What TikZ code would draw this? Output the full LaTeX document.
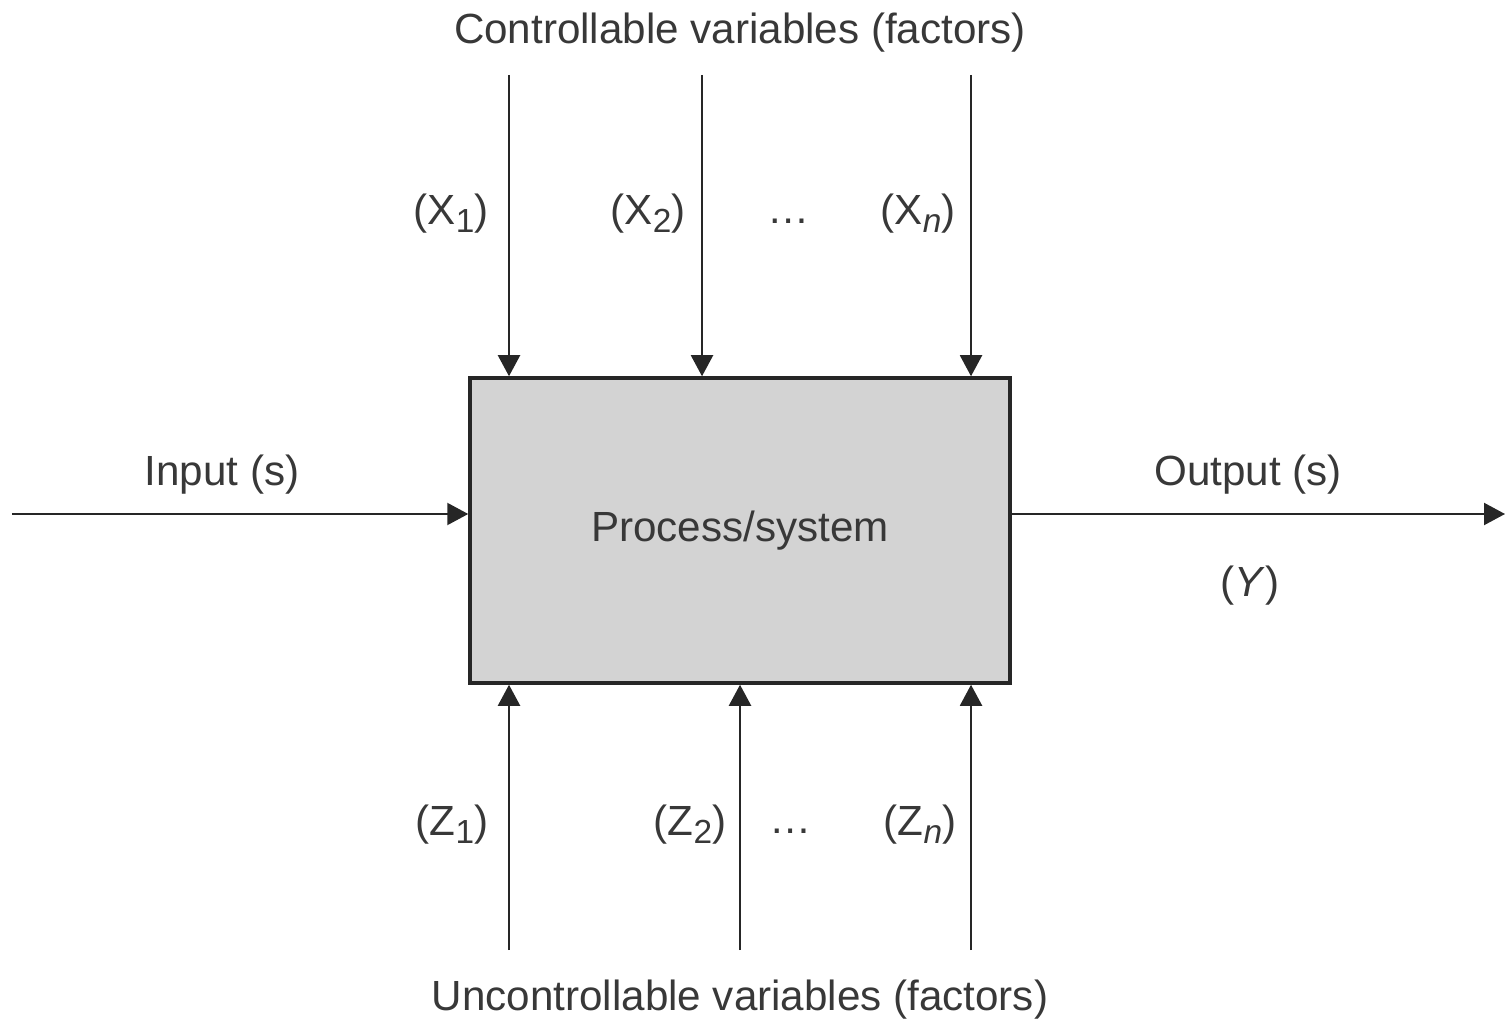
\documentclass[tikz,border=0pt]{standalone}
\usepackage{fontspec}
\setmainfont{Liberation Sans}
\usetikzlibrary{arrows.meta,calc,positioning}
\definecolor{ink}{HTML}{262626}
\definecolor{txt}{HTML}{383838}
\definecolor{boxgray}{HTML}{D3D3D3}
\tikzset{flow/.style={-{Triangle[length=2.1mm,width=2.2mm]}, line width=.6pt, color=ink}, procbox/.style={draw=ink, fill=boxgray, line width=1pt, minimum width=5.4cm, minimum height=3.05cm, inner sep=0pt}, lab/.style={font=\fontsize{12}{14}\selectfont, text=txt, inner sep=0pt}}
\newcommand{\sub}[1]{\raisebox{-0.35ex}{\fontsize{9.5}{11}\selectfont #1}}

\begin{document}
\begin{tikzpicture}[scale=1]
\useasboundingbox (0,0) rectangle (15.11,10.19);
\node[procbox, lab] (proc) at (7.40,4.885) {\raisebox{-0.4ex}{Process/system}};
% controllable factors
\coordinate (x1) at (5.09,9.44); \coordinate (x2) at (7.02,9.44); \coordinate (xn) at (9.71,9.44);
\draw[flow] (x1)--(x1|-proc.north); \draw[flow] (x2)--(x2|-proc.north); \draw[flow] (xn)--(xn|-proc.north);
% uncontrollable factors
\coordinate (z1) at (5.09,0.69); \coordinate (z2) at (7.40,0.69); \coordinate (zn) at (9.71,0.69);
\draw[flow] (z1)--(z1|-proc.south); \draw[flow] (z2)--(z2|-proc.south); \draw[flow] (zn)--(zn|-proc.south);
% input and output
\coordinate (in) at (0.12,5.05); \coordinate (out) at (15.05,5.05);
\draw[flow] (in)--(in-|proc.west); \draw[flow] (out-|proc.east)--(out);
\node[lab] (ctrl) at (7.40,9.86) {Controllable variables (factors)};
\node[lab] (xl1) at (4.51,8.05) {(X\sub{1})}; \node[lab] (xl2) at (6.48,8.05) {(X\sub{2})};
\node[lab] (xdots) at (7.89,7.98) {\dots}; \node[lab] (xln) at (9.18,8.05) {(X\sub{\itshape n})};
\node[lab] (zl1) at (4.52,1.94) {(Z\sub{1})}; \node[lab] (zl2) at (6.90,1.94) {(Z\sub{2})};
\node[lab] (zdots) at (7.91,1.88) {\dots}; \node[lab] (zln) at (9.20,1.94) {(Z\sub{\itshape n})};
\node[lab] (unctrl) at (7.40,0.19) {Uncontrollable variables (factors)};
\node[lab] (inlab) at (2.22,5.44) {Input (s)};
\node[lab] (outlab) at (12.48,5.44) {Output (s)};
\node[lab] (ylab) at (12.50,4.33) {(\textit{Y})};
\end{tikzpicture}
\end{document}
